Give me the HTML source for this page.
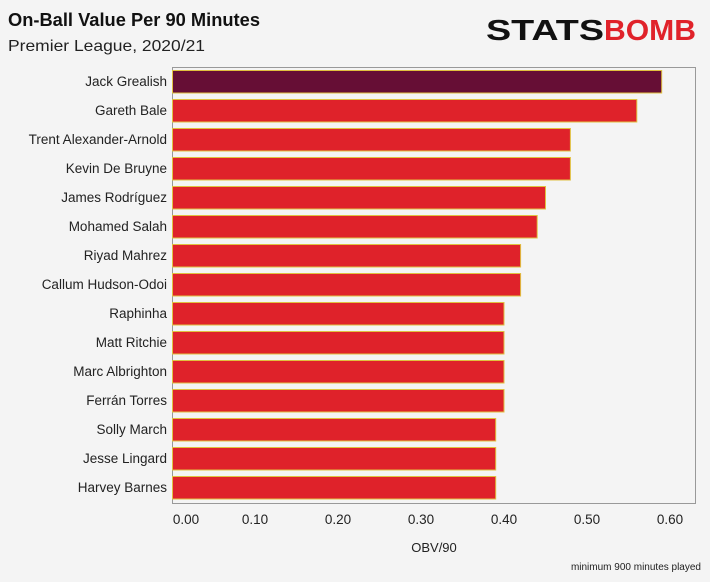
<!DOCTYPE html>
<html><head><meta charset="utf-8"><style>
body{margin:0;background:#f4f4f4;font-family:"Liberation Sans",sans-serif;}
#wrap{position:relative;width:710px;height:582px;overflow:hidden;}
</style></head><body>
<div id="wrap">
<svg id="svg" width="710" height="582">
<text x="8" y="26" font-size="18" font-weight="bold" fill="#111" textLength="252" lengthAdjust="spacingAndGlyphs">On-Ball Value Per 90 Minutes</text>
<text x="8" y="51" font-size="16" fill="#222" textLength="197" lengthAdjust="spacingAndGlyphs">Premier League, 2020/21</text>
<g>
<text x="486" y="40" font-size="29" font-weight="bold" fill="#111" font-style="normal" textLength="118" lengthAdjust="spacingAndGlyphs">STATS</text>
<text x="604" y="40" font-size="29" font-weight="bold" fill="#e0222a" textLength="92" lengthAdjust="spacingAndGlyphs">BOMB</text>
</g>
<rect x="172.5" y="67.5" width="523" height="436" fill="#f4f4f4" stroke="#999"/>
<g id="bars"></g>
<g id="ticks"></g>
<text x="434" y="552" font-size="13" fill="#222" text-anchor="middle">OBV/90</text>
<text x="701" y="570" font-size="10" fill="#222" text-anchor="end">minimum 900 minutes played</text>
</svg>
</div>
<script>
const players=["Jack Grealish","Gareth Bale","Trent Alexander-Arnold","Kevin De Bruyne","James Rodríguez","Mohamed Salah","Riyad Mahrez","Callum Hudson-Odoi","Raphinha","Matt Ritchie","Marc Albrighton","Ferrán Torres","Solly March","Jesse Lingard","Harvey Barnes"];
const obv=[0.59,0.56,0.48,0.48,0.45,0.44,0.42,0.42,0.40,0.40,0.40,0.40,0.39,0.39,0.39];
const tickVals=[0,0.1,0.2,0.3,0.4,0.5,0.6];
const tickLabels=["0.00","0.10","0.20","0.30","0.40","0.50","0.60"];
const NS="http://www.w3.org/2000/svg";
const x=v=>172+v*830;
const y=i=>70+i*29;
const bars=document.getElementById('bars'),ticks=document.getElementById('ticks');
players.forEach((p,i)=>{
 const r=document.createElementNS(NS,'rect');
 r.setAttribute('x',172.5);r.setAttribute('y',y(i)+0.5);
 r.setAttribute('width',x(obv[i])-172.5);r.setAttribute('height',22.5);
 r.setAttribute('fill',i===0?'#660e35':'#df222a');
 r.setAttribute('stroke','#e0c040');r.setAttribute('stroke-width','1');
 
 
 bars.appendChild(r);
 const t=document.createElementNS(NS,'text');
 t.setAttribute('x',167);t.setAttribute('y',y(i)+16);
 t.setAttribute('font-size','13.5');t.setAttribute('fill','#222');t.setAttribute('text-anchor','end');
 t.textContent=p;
 
 
 bars.appendChild(t);
});
tickVals.forEach((v,i)=>{
 const t=document.createElementNS(NS,'text');
 t.setAttribute('x',i===0?186:x(v));t.setAttribute('y',524);
 t.setAttribute('font-size','13.5');t.setAttribute('fill','#222');t.setAttribute('text-anchor','middle');
 t.textContent=tickLabels[i];
 
 
 ticks.appendChild(t);
});
</script>
</body></html>
